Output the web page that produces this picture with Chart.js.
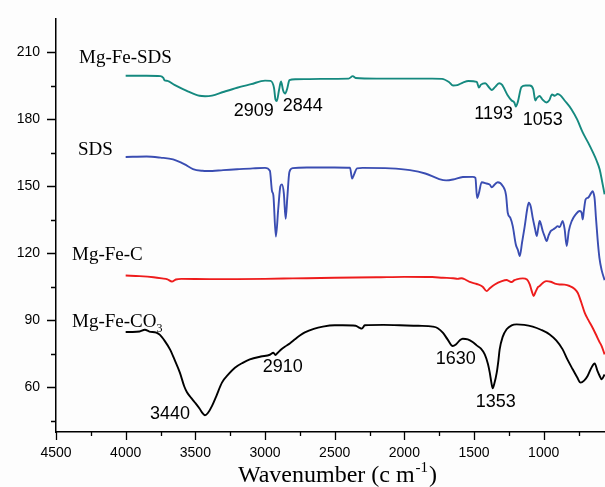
<!DOCTYPE html>
<html>
<head>
<meta charset="utf-8">
<script src="https://cdn.jsdelivr.net/npm/chart.js@4.4.1/dist/chart.umd.min.js"></script>
<style>
  html, body { margin: 0; padding: 0; background: #fdfdfd; }
  #ftir { display: block; }
</style>
</head>
<body>
<canvas id="ftir" width="605" height="487"></canvas>
<script>
// FTIR spectra, wavenumber (cm-1) vs transmittance (offset per sample)
const xTicks = [4500, 4000, 3500, 3000, 2500, 2000, 1500, 1000];
const xMinorTicks = [4250, 3750, 3250, 2750, 2250, 1750, 1250, 750];
const yTicks = [60, 90, 120, 150, 180, 210];
const yMinorTicks = [45, 75, 105, 135, 165, 195];

const sdsHybridWn = [4000, 3850, 3750, 3730, 3720, 3700, 3650, 3550, 3470, 3430, 3380, 3300, 3200, 3100, 3000, 2960, 2935, 2925, 2915, 2900, 2885, 2870, 2855, 2840, 2825, 2780, 2600, 2400, 2370, 2350, 2200, 2000, 1800, 1730, 1680, 1650, 1620, 1580, 1540, 1480, 1465, 1450, 1420, 1390, 1373, 1350, 1320, 1300, 1260, 1230, 1210, 1200, 1185, 1160, 1130, 1100, 1075, 1060, 1050, 1030, 1010, 980, 960, 940, 920, 900, 880, 850, 800, 760, 720, 680, 650, 620, 598, 580, 563];
const sdsHybridT = [199.6, 199.6, 199.4, 198.6, 197.5, 197.3, 195.5, 192.5, 190.6, 190.4, 190.7, 192.3, 194.2, 195.8, 197.4, 197.3, 194, 189, 188.3, 193, 197, 193, 191.6, 194, 197.6, 198, 198.2, 198.3, 199.4, 198.6, 198.3, 198.3, 198.3, 198.2, 196.8, 195.2, 195.4, 196.5, 197.2, 196.8, 194.3, 195.6, 196.2, 194.2, 193.2, 194.5, 196.2, 195.6, 191, 188.5, 187.5, 185.8, 188, 194.5, 195.2, 195.2, 193.5, 188.5, 189.5, 190.5, 189, 187.6, 188.6, 191.2, 190.6, 191.4, 190.8, 188.5, 184.5, 180, 174.2, 169.5, 165.7, 161.5, 157.6, 152, 146.5];

const sdsWn = [4000, 3850, 3750, 3660, 3580, 3517, 3450, 3410, 3300, 3200, 3087, 3000, 2965, 2950, 2940, 2922, 2905, 2890, 2879, 2865, 2852, 2840, 2825, 2800, 2700, 2500, 2390, 2375, 2360, 2340, 2300, 2100, 1960, 1850, 1750, 1700, 1650, 1580, 1509, 1490, 1478, 1465, 1445, 1410, 1387, 1373, 1350, 1330, 1294, 1270, 1258, 1240, 1222, 1200, 1185, 1172, 1155, 1136, 1118, 1107, 1093, 1079, 1062, 1050, 1040, 1029, 1015, 1007, 995, 979, 965, 950, 930, 915, 900, 885, 864, 850, 835, 820, 799, 770, 742, 728, 720, 712, 699, 680, 660, 649, 640, 634, 625, 613, 600, 584, 563];
const sdsT = [163.2, 163.4, 162.9, 162.1, 160, 157.8, 157, 156.9, 157.3, 157.7, 158.1, 158.3, 157, 148, 146, 127.6, 140, 150, 150.9, 147, 135.5, 145, 156.5, 158.2, 158.5, 158.5, 158.4, 153.5, 155.5, 158.1, 158.3, 158.1, 157.3, 155.8, 153.3, 152.7, 153.1, 154.2, 154.3, 153.8, 144.8, 147, 151.9, 151.3, 150.8, 149.6, 151, 151.9, 150.2, 146, 138.2, 136, 132.2, 124, 121.5, 118.8, 125, 132.2, 140, 142.7, 141, 136, 131, 127.8, 131, 134.5, 132, 130, 128, 125.5, 128, 130, 130.8, 131.5, 132.2, 131.8, 134.5, 131, 123.3, 130, 134.5, 137.5, 139, 138.3, 135.2, 139, 144.2, 145, 147, 147.9, 146.5, 144.2, 136, 126.3, 118, 112.5, 108];

const mgFeCWn = [4000, 3900, 3800, 3740, 3700, 3668, 3640, 3600, 3400, 3200, 3000, 2800, 2500, 2200, 2000, 1800, 1724, 1650, 1617, 1590, 1560, 1531, 1480, 1438, 1409, 1390, 1351, 1300, 1266, 1245, 1230, 1210, 1194, 1150, 1120, 1100, 1085, 1072, 1060, 1040, 1029, 1000, 979, 950, 920, 886, 850, 814, 780, 756, 730, 706, 680, 649, 620, 600, 584, 563];
const mgFeCT = [110.1, 109.8, 109.3, 108.8, 108.4, 107.4, 108.3, 108.6, 108.5, 108.5, 108.6, 108.8, 109.1, 109.3, 109.5, 109.4, 109.1, 108.9, 108.6, 108.9, 108.2, 107.2, 106.3, 105.1, 103.1, 104.2, 106.1, 107.6, 108.1, 107.5, 107.2, 108, 108.4, 108.8, 108.3, 106.1, 103, 100.9, 102.5, 105, 105.4, 107.1, 107.6, 107.3, 106.5, 106.1, 106, 105.4, 104.2, 102.4, 98, 93.5, 90.2, 86.7, 83, 80.4, 78.5, 74.8];

const mgFeCO3Wn = [4000, 3950, 3900, 3862, 3830, 3780, 3754, 3720, 3682, 3650, 3611, 3580, 3560, 3530, 3503, 3470, 3445, 3431, 3410, 3381, 3350, 3309, 3260, 3216, 3160, 3109, 3030, 2965, 2940, 2925, 2910, 2880, 2858, 2820, 2786, 2750, 2714, 2650, 2585, 2500, 2442, 2350, 2320, 2305, 2284, 2150, 2033, 1900, 1796, 1760, 1724, 1690, 1653, 1630, 1600, 1581, 1545, 1510, 1481, 1450, 1423, 1400, 1387, 1375, 1366, 1355, 1337, 1325, 1316, 1295, 1266, 1230, 1194, 1140, 1079, 1020, 957, 910, 864, 830, 792, 760, 735, 710, 685, 660, 634, 615, 598, 584, 563];
const mgFeCO3T = [84.8, 84.8, 85, 85.8, 85, 84.5, 83.5, 80.8, 77, 72.5, 66.6, 60.5, 57.8, 55.3, 53.2, 50.5, 48.2, 47.5, 48.5, 51.6, 56, 62.1, 66, 68.8, 71, 72.5, 73.8, 74.6, 75.5, 74.5, 75.4, 77.2, 78.2, 79.8, 81.5, 83.2, 84.6, 86.2, 87.2, 87.8, 87.8, 87.6, 86.6, 86.3, 87.8, 88, 87.8, 87.6, 87.2, 86.5, 84.5, 81.5, 78.5, 79.2, 81.2, 81.8, 81.5, 80.3, 78.8, 77.3, 74.8, 70.5, 66.6, 62, 59.6, 61.5, 66.6, 72, 77, 82.5, 86, 87.8, 88.2, 88, 87.2, 85.8, 83.7, 81, 77, 72.5, 68.1, 64.5, 62.1, 63, 65.1, 68.5, 70.7, 67.5, 65.1, 63.6, 65.8];

const seriesNames = ['Mg-Fe-SDS', 'SDS', 'Mg-Fe-C', 'Mg-Fe-CO3'];
const seriesColors = ['#15897f', '#3a4db2', '#ee1c1c', '#000000'];

// band labels: [text, wavenumber, transmittance] anchor (centre, baseline)
const bandLabels = [
  ['2909', 3080, 181.4], ['2844', 2729, 184.0], ['1193', 1359, 180.0], ['1053', 1007, 177.3],
  ['3440', 3682, 45.7], ['2910', 2872, 66.7], ['1630', 1631, 70.3], ['1353', 1344, 51.0]
];
// sample names: [wavenumber, transmittance] of left/baseline anchor
const nameAnchors = [[4335, 205.5], [4342, 164.3], [4385, 116.9], [4385, 86.9]];

const SANS = '"Liberation Sans", Arial, sans-serif';
const SERIF = '"Liberation Serif", "Times New Roman", serif';

function zip(xs, ys) {
  return xs.map((x, i) => ({ x: x, y: ys[i] }));
}

const spectra = [
  zip(sdsHybridWn, sdsHybridT),
  zip(sdsWn, sdsT),
  zip(mgFeCWn, mgFeCT),
  zip(mgFeCO3Wn, mgFeCO3T)
];

// tick marks drawn by hand so minor ticks can be shorter
const axisTicks = {
  id: 'axisTicks',
  afterDraw(chart) {
    const { ctx, scales: { x, y } } = chart;
    ctx.save();
    ctx.strokeStyle = '#000';
    ctx.lineWidth = 1.3;
    ctx.beginPath();
    xTicks.forEach(v => { const p = Math.round(x.getPixelForValue(v)) + 0.5; ctx.moveTo(p, x.top); ctx.lineTo(p, x.top + 8); });
    xMinorTicks.forEach(v => { const p = Math.round(x.getPixelForValue(v)) + 0.5; ctx.moveTo(p, x.top); ctx.lineTo(p, x.top + 4); });
    yTicks.forEach(v => { const p = Math.round(y.getPixelForValue(v)) + 0.5; ctx.moveTo(y.right, p); ctx.lineTo(y.right - 9, p); });
    yMinorTicks.forEach(v => { const p = Math.round(y.getPixelForValue(v)) + 0.5; ctx.moveTo(y.right, p); ctx.lineTo(y.right - 5, p); });
    ctx.stroke();
    ctx.restore();
  }
};

const annotations = {
  id: 'annotations',
  afterDraw(chart) {
    const { ctx, scales: { x, y } } = chart;
    ctx.save();
    ctx.fillStyle = '#000';
    ctx.textBaseline = 'alphabetic';

    // sample names
    ctx.textAlign = 'left';
    seriesNames.forEach((name, i) => {
      const px = x.getPixelForValue(nameAnchors[i][0]);
      const py = y.getPixelForValue(nameAnchors[i][1]);
      ctx.font = '19px ' + SERIF;
      if (name.endsWith('CO3')) {
        const head = name.slice(0, -1);
        ctx.fillText(head, px, py);
        const w = ctx.measureText(head).width;
        ctx.font = '12px ' + SERIF;
        ctx.fillText('3', px + w, py + 5);
      } else {
        ctx.fillText(name, px, py);
      }
    });

    // band positions
    ctx.textAlign = 'center';
    ctx.font = '18px ' + SANS;
    bandLabels.forEach(([t, wn, v]) => {
      ctx.fillText(t, x.getPixelForValue(wn), y.getPixelForValue(v));
    });

    // axis title with superscript
    const cx = (x.left + x.right) / 2 + 6;
    const base = chart.height - 5;
    const main = 'Wavenumber (c m';
    ctx.font = '24px ' + SERIF;
    const wMain = ctx.measureText(main).width;
    ctx.font = '15px ' + SERIF;
    const wSup = ctx.measureText('-1').width;
    ctx.font = '24px ' + SERIF;
    const wEnd = ctx.measureText(')').width;
    let left = cx - (wMain + wSup + wEnd) / 2;
    ctx.textAlign = 'left';
    ctx.fillText(main, left, base);
    left += wMain;
    ctx.font = '15px ' + SERIF;
    ctx.fillText('-1', left + 1, base - 10);
    left += wSup + 2;
    ctx.font = '24px ' + SERIF;
    ctx.fillText(')', left, base);
    ctx.restore();
  }
};

new Chart(document.getElementById('ftir'), {
  type: 'line',
  data: {
    datasets: spectra.map((d, i) => ({
      label: seriesNames[i],
      data: d,
      borderColor: seriesColors[i],
      borderWidth: 1.9,
      pointRadius: 0,
      fill: false,
      cubicInterpolationMode: 'monotone'
    }))
  },
  options: {
    responsive: false,
    animation: false,
    devicePixelRatio: 1,
    layout: { padding: { top: 19, right: 0, left: 0, bottom: 0 } },
    plugins: {
      legend: { display: false },
      tooltip: { enabled: false }
    },
    scales: {
      x: {
        type: 'linear',
        reverse: true,
        min: 560,
        max: 4500,
        afterBuildTicks: s => { s.ticks = xTicks.map(v => ({ value: v })); },
        afterFit: s => { s.height = 55; },
        grid: { drawOnChartArea: false, tickLength: 8, tickColor: 'rgba(0,0,0,0)' },
        border: { color: '#000', width: 1.5 },
        ticks: {
          color: '#000', font: { family: SANS, size: 14 }, padding: 5, maxRotation: 0, autoSkip: false,
          callback: v => String(v)
        }
      },
      y: {
        min: 40,
        max: 225,
        afterBuildTicks: s => { s.ticks = yTicks.map(v => ({ value: v })); },
        afterFit: s => { s.width = 56; },
        grid: { drawOnChartArea: false, tickLength: 9, tickColor: 'rgba(0,0,0,0)' },
        border: { color: '#000', width: 1.5 },
        ticks: { color: '#000', font: { family: SANS, size: 14 }, padding: 7, callback: v => String(v) }
      }
    }
  },
  plugins: [axisTicks, annotations]
});
</script>
</body>
</html>
